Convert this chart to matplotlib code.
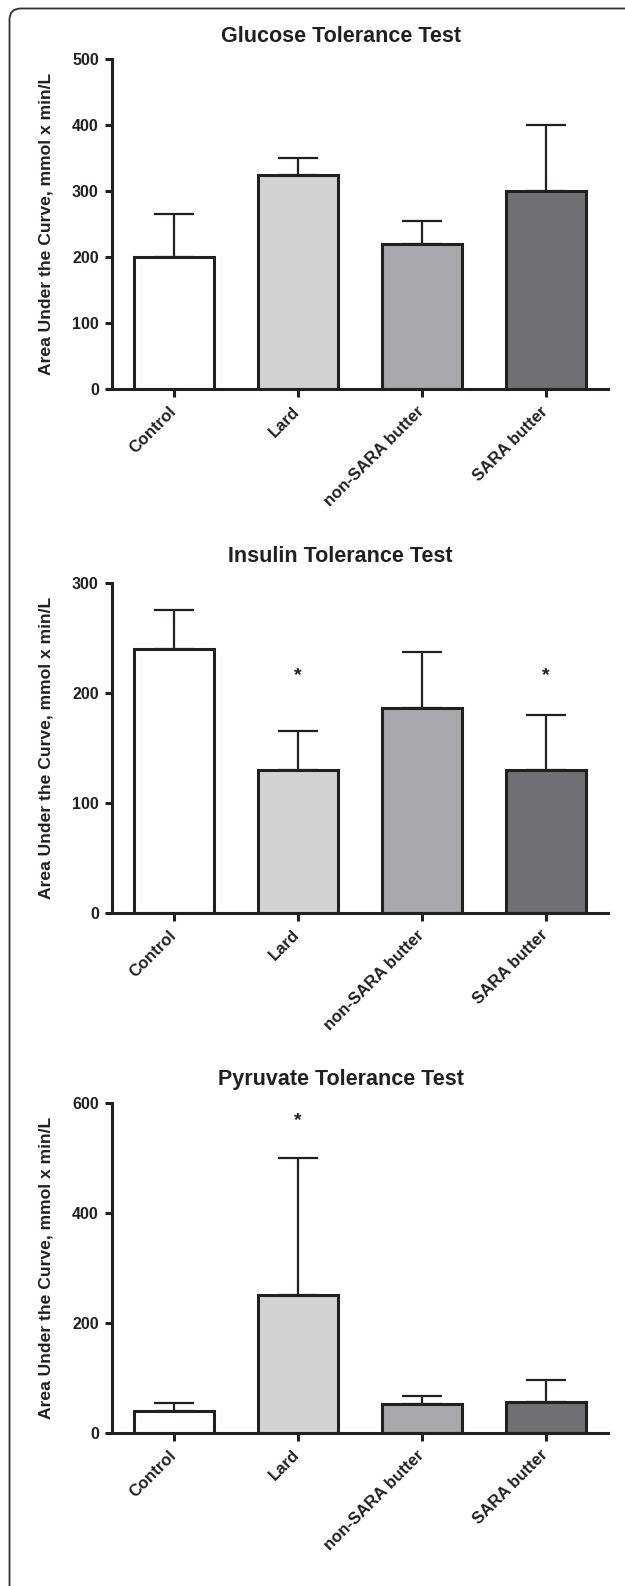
import matplotlib
matplotlib.use("Agg")
import matplotlib.pyplot as plt
from matplotlib.patches import FancyBboxPatch
import numpy as np

# ---------------- data ----------------
categories = ["Control", "Lard", "non-SARA butter", "SARA butter"]

glucose_mean = [200, 325, 220, 300]
glucose_err = [65, 25, 35, 100]

insulin_mean = [240, 130, 186, 130]
insulin_err = [35, 35, 51, 50]

pyruvate_mean = [40, 250, 52, 55]
pyruvate_err = [14, 250, 15, 40]

glucose_ticks = [0, 100, 200, 300, 400, 500]
insulin_ticks = [0, 100, 200, 300]
pyruvate_ticks = [0, 200, 400, 600]

titles = ["Glucose Tolerance Test", "Insulin Tolerance Test", "Pyruvate Tolerance Test"]
ylabel = "Area Under the Curve, mmol x min/L"

# significance markers: (category index, y value)
glucose_stars = []
insulin_stars = [(1, 216), (3, 216)]
pyruvate_stars = [(1, 567)]

# ---------------- style ----------------
bar_colors = ["#ffffff", "#d1d2d4", "#a7a8ab", "#707175"]
ink = "#231f20"
plt.rcParams['font.family'] = ['Liberation Sans', 'DejaVu Sans']

W, H = 625, 1586
fig = plt.figure(figsize=(W / 100, H / 100), dpi=100)

# border (rounded frame, clipped on right/bottom)
frame = FancyBboxPatch((9.5 / W, -0.05), 1.2, 1.05 - 8.5 / H + 0.0,
                       boxstyle="round,pad=0,rounding_size=0.018",
                       transform=fig.transFigure, fill=False,
                       edgecolor="#333333", linewidth=1.3, mutation_aspect=W / H)
fig.patches.append(frame)

ax_left = 111.6 / W
ax_width = (607.6 - 111.6) / W
ax_h = 330 / H
zero_px = [389.3, 912.7, 1432.7]
title_px = [36, 556.7, 1079]

panels = [
    (glucose_mean, glucose_err, glucose_ticks, glucose_stars),
    (insulin_mean, insulin_err, insulin_ticks, insulin_stars),
    (pyruvate_mean, pyruvate_err, pyruvate_ticks, pyruvate_stars),
]

x = np.arange(len(categories))
for i, (mean, err, ticks, stars) in enumerate(panels):
    bottom = 1 - zero_px[i] / H
    ax = fig.add_axes([ax_left, bottom, ax_width, ax_h])
    ax.errorbar(x, mean, yerr=[np.zeros(len(mean)), err], fmt='none',
                ecolor=ink, elinewidth=1.6, capsize=14.5, capthick=1.6, zorder=1)
    ax.bar(x, mean, width=0.645, color=bar_colors, edgecolor=ink,
           linewidth=2.2, zorder=2)
    for (ci, yv) in stars:
        ax.text(ci, yv, "*", ha='center', va='center', fontsize=14,
                color=ink, fontweight='bold')
    ax.set_xlim(-0.5, len(categories) - 0.5)
    ax.set_ylim(ticks[0], ticks[-1])
    ax.set_yticks(ticks)
    ax.set_yticklabels([str(t) for t in ticks], fontsize=11.5,
                       fontweight='bold', color=ink)
    ax.set_xticks(x)
    ax.set_xticklabels(categories, rotation=45, ha='right', va='center',
                       rotation_mode='anchor', fontsize=12,
                       fontweight='bold', color=ink)
    for s in ['top', 'right']:
        ax.spines[s].set_visible(False)
    for s in ['left', 'bottom']:
        ax.spines[s].set_linewidth(2.2)
        ax.spines[s].set_color(ink)
    ax.tick_params(axis='y', length=5.2, width=2.2, color=ink, pad=4)
    ax.tick_params(axis='x', length=5.4, width=2.2, color=ink, pad=9)
    ax.patch.set_alpha(0)

    fig.text(340.6 / W, 1 - title_px[i] / H, titles[i], ha='center',
             va='center', fontsize=15.5, fontweight='bold', color=ink)
    fig.text(46.5 / W, bottom + ax_h / 2, ylabel, rotation=90, ha='center',
             va='center', fontsize=12.6, fontweight='bold', color=ink)

fig.savefig("out.png", dpi=100, facecolor='white')
